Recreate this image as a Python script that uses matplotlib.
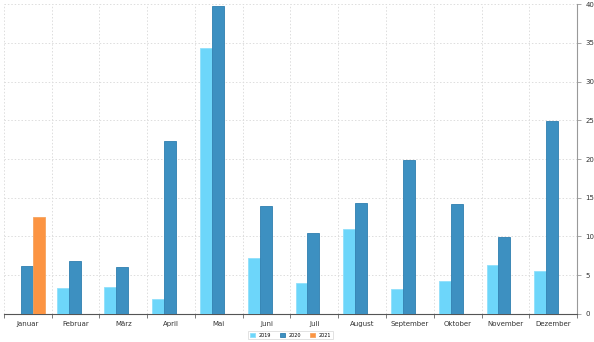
import matplotlib.pyplot as plt
import numpy as np

months = ['Januar', 'Februar', 'März', 'April', 'Mai', 'Juni', 'Juli',
          'August', 'September', 'Oktober', 'November', 'Dezember']
years = ['2019', '2020', '2021']

v2019 = [0, 3.3, 3.5, 1.9, 34.3, 7.2, 4.0, 11.0, 3.2, 4.3, 6.3, 5.5]
v2020 = [6.2, 6.9, 6.0, 22.3, 39.7, 13.9, 10.4, 14.3, 19.9, 14.2, 9.9, 24.9]
v2021 = [12.5, 0, 0, 0, 0, 0, 0, 0, 0, 0, 0, 0]

colors = ['#6dd6fa', '#3d90c1', '#fc9442']
edges = ['#8fe0fb', '#2f7fb0', '#f5a460']

fig = plt.figure(figsize=(5.94, 3.42), dpi=100)
ax = fig.add_axes([0.0067, 0.082, 0.9647, 0.906])

x = np.arange(len(months))
w = 0.25
series = [v2019, v2020, v2021]
for i, vals in enumerate(series):
    ax.bar(x + (i - 1) * w - 0.02, vals, width=w, color=colors[i], edgecolor=edges[i],
           linewidth=0.6, label=years[i], zorder=3)

ax.set_xlim(-0.5, len(months) - 0.5)
ax.set_ylim(0, 40)

# labels in the middle, ticks + grid on the category borders
ax.set_xticks(x)
ax.set_xticklabels(months, fontsize=5, color='#333333')
ax.tick_params(axis='x', which='major', length=0, pad=5)
ax.set_xticks(np.arange(len(months) + 1) - 0.5, minor=True)
ax.tick_params(axis='x', which='minor', length=3, color='#666666', width=0.6)

ax.yaxis.tick_right()
ax.set_yticks(np.arange(0, 41, 5))
ax.tick_params(axis='y', labelsize=5, labelcolor='#333333', length=3,
               color='#999999', width=0.6, pad=3)

ax.grid(True, which='minor', axis='x', color='#dddddd', linestyle=(0, (1.5, 2)), linewidth=0.7)
ax.grid(True, which='major', axis='y', color='#dddddd', linestyle=(0, (1.5, 2)), linewidth=0.7)
ax.set_axisbelow(True)

for s in ['top', 'left']:
    ax.spines[s].set_visible(False)
ax.spines['right'].set_color('#999999')
ax.spines['right'].set_linewidth(0.8)
ax.spines['bottom'].set_color('#555555')
ax.spines['bottom'].set_linewidth(0.8)

leg = ax.legend(loc='upper center', bbox_to_anchor=(0.5, -0.047), ncol=3, fontsize=3.5,
                frameon=True, handlelength=1.0, handleheight=1.0, columnspacing=1.8,
                handletextpad=0.8, borderpad=0.35, fancybox=False)
leg.get_frame().set_edgecolor('#cccccc')
leg.get_frame().set_linewidth(0.5)

fig.savefig('out.png', dpi=100)
